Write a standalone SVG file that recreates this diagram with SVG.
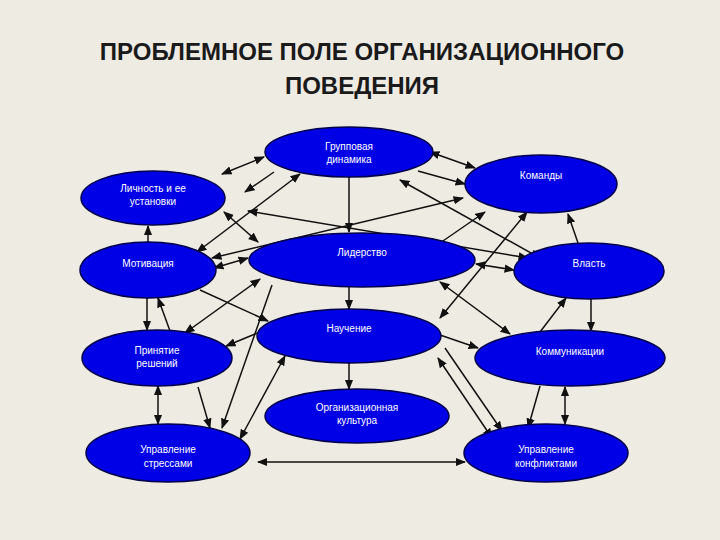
<svg xmlns="http://www.w3.org/2000/svg" width="720" height="540" viewBox="0 0 720 540">
<defs>
<marker id="a" viewBox="0 0 10 10" refX="9" refY="5" markerWidth="7" markerHeight="7" orient="auto-start-reverse"><path d="M0,1 L10,5 L0,9 z" fill="#111"/></marker>
<style>
.n ellipse{fill:#0000e6;stroke:#00004a;stroke-width:1.5}
.n text{fill:#fff;font-family:"Liberation Sans",Arial,sans-serif;font-size:10px;text-anchor:middle}
#c line{stroke:#111;stroke-width:1.5}
.s{marker-end:url(#a)}
.d{marker-start:url(#a);marker-end:url(#a)}
.t{font-family:"Liberation Sans",Arial,sans-serif;font-size:24px;font-weight:bold;fill:#1a1a1a;text-anchor:middle}
</style>
</defs>
<rect width="720" height="540" fill="#eeebe3"/>
<text class="t" x="362" y="60">ПРОБЛЕМНОЕ ПОЛЕ ОРГАНИЗАЦИОННОГО</text>
<text class="t" x="362" y="94">ПОВЕДЕНИЯ</text>
<g id="c">
<line class="d" x1="222" y1="174" x2="264" y2="157"/>
<line class="s" x1="274" y1="172" x2="245" y2="192"/>
<line class="d" x1="197" y1="252" x2="300" y2="174"/>
<line class="d" x1="430" y1="152" x2="475" y2="168"/>
<line class="s" x1="418" y1="171" x2="465" y2="184"/>
<line class="s" x1="349" y1="177" x2="349" y2="232"/>
<line class="d" x1="463" y1="198" x2="212" y2="258"/>
<line class="d" x1="248" y1="211" x2="528" y2="258"/>
<line class="d" x1="400" y1="180" x2="540" y2="258"/>
<line class="d" x1="224" y1="212" x2="258" y2="242"/>
<line class="s" x1="148" y1="243" x2="148" y2="226"/>
<line class="d" x1="214" y1="268" x2="248" y2="258"/>
<line class="d" x1="476" y1="264" x2="514" y2="270"/>
<line class="s" x1="578" y1="243" x2="568" y2="214"/>
<line class="s" x1="440" y1="243" x2="485" y2="212"/>
<line class="d" x1="440" y1="318" x2="527" y2="212"/>
<line class="s" x1="200" y1="290" x2="268" y2="321"/>
<line class="d" x1="260" y1="279" x2="185" y2="333"/>
<line class="s" x1="272" y1="285" x2="222" y2="428"/>
<line class="s" x1="170" y1="331" x2="158" y2="298"/>
<line class="s" x1="147" y1="298" x2="147" y2="330"/>
<line class="s" x1="349" y1="287" x2="349" y2="309"/>
<line class="s" x1="260" y1="332" x2="226" y2="346"/>
<line class="s" x1="440" y1="335" x2="478" y2="348"/>
<line class="d" x1="440" y1="282" x2="510" y2="334"/>
<line class="s" x1="540" y1="332" x2="566" y2="298"/>
<line class="s" x1="591" y1="299" x2="591" y2="331"/>
<line class="s" x1="349" y1="362" x2="349" y2="389"/>
<line class="d" x1="158" y1="386" x2="158" y2="424"/>
<line class="s" x1="198" y1="387" x2="210" y2="428"/>
<line class="d" x1="285" y1="356" x2="240" y2="439"/>
<line class="s" x1="445" y1="348" x2="502" y2="431"/>
<line class="d" x1="438" y1="358" x2="492" y2="438"/>
<line class="s" x1="540" y1="386" x2="528" y2="428"/>
<line class="d" x1="565" y1="387" x2="565" y2="424"/>
<line class="d" x1="258" y1="462" x2="465" y2="462"/>
</g>
<g id="gd" class="n"><ellipse cx="349" cy="152" rx="84" ry="25"/><text x="349" y="150">Групповая</text><text x="349" y="163">динамика</text></g>
<g id="kom" class="n"><ellipse cx="541" cy="184" rx="76" ry="29"/><text x="541" y="179">Команды</text></g>
<g id="lich" class="n"><ellipse cx="153" cy="198" rx="72" ry="27"/><text x="153" y="192">Личность и ее</text><text x="153" y="205">установки</text></g>
<g id="mot" class="n"><ellipse cx="148" cy="270" rx="68" ry="28"/><text x="148" y="267">Мотивация</text></g>
<g id="lid" class="n"><ellipse cx="362" cy="260" rx="113" ry="27"/><text x="362" y="256">Лидерство</text></g>
<g id="vl" class="n"><ellipse cx="589" cy="271" rx="75" ry="28"/><text x="589" y="267">Власть</text></g>
<g id="nau" class="n"><ellipse cx="349" cy="336" rx="92" ry="27"/><text x="349" y="332">Научение</text></g>
<g id="pr" class="n"><ellipse cx="157" cy="358" rx="75" ry="28"/><text x="157" y="354">Принятие</text><text x="157" y="367">решений</text></g>
<g id="komm" class="n"><ellipse cx="570" cy="358" rx="95" ry="28"/><text x="570" y="355">Коммуникации</text></g>
<g id="ok" class="n"><ellipse cx="357" cy="416" rx="92" ry="27"/><text x="357" y="411">Организационная</text><text x="357" y="424">культура</text></g>
<g id="us" class="n"><ellipse cx="168" cy="453" rx="82" ry="29"/><text x="168" y="453">Управление</text><text x="168" y="467">стрессами</text></g>
<g id="uk" class="n"><ellipse cx="546" cy="453" rx="82" ry="29"/><text x="546" y="453">Управление</text><text x="546" y="467">конфликтами</text></g>
</svg>
